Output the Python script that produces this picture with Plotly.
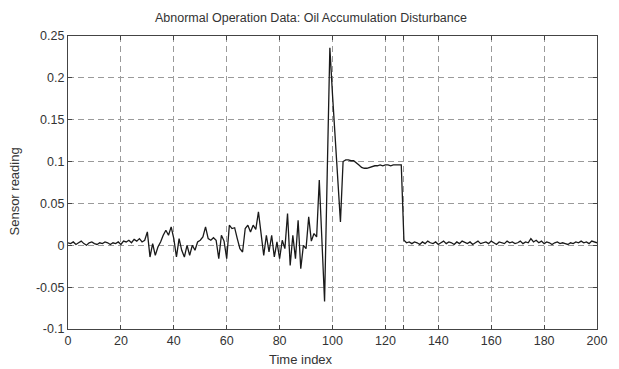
import plotly.graph_objects as go

time_index = list(range(0, 201))

seg_quiet = [0.003, 0.002, 0.004, 0.001, 0.003, 0.005, 0.002, 0.000, 0.003, 0.004,
             0.002, 0.001, 0.003, 0.002, 0.004, 0.003, 0.001, 0.003, 0.002, 0.004,
             0.001, 0.005, 0.004, 0.006, 0.003, 0.007, 0.005, 0.008, 0.004, 0.006]
seg_noisy = [0.016, -0.014, 0.002, -0.012, -0.002, 0.004, 0.012, 0.018, 0.012, 0.022,
             0.008, -0.014, 0.008, -0.006, -0.014, 0.000, -0.012, 0.000, -0.006, 0.004,
             0.006, 0.010, 0.022, 0.008, 0.006, 0.009, 0.006, -0.016, 0.012, 0.005,
             -0.016, 0.024, 0.020, 0.021, 0.008, -0.004, -0.008, 0.020, 0.024, 0.016,
             0.024, 0.019, 0.040, 0.014, -0.012, 0.012, -0.008, 0.012, -0.014, 0.004,
             -0.016, 0.006, -0.004, 0.038, -0.024, 0.012, -0.016, 0.030, -0.028, 0.000,
             -0.004, 0.034, 0.005, 0.014, 0.010]
seg_spike = [0.078, 0.005, -0.067, 0.085, 0.236, 0.180, 0.125, 0.075, 0.028]
seg_plateau = [0.100, 0.102, 0.102, 0.101, 0.101, 0.099, 0.096, 0.093, 0.092, 0.092,
               0.093, 0.094, 0.095, 0.095, 0.096, 0.095, 0.096, 0.096, 0.095, 0.096,
               0.096, 0.096, 0.096]
seg_after = [0.006, 0.003, 0.004, 0.002, 0.004, 0.003, 0.001, 0.004, 0.002, 0.005,
             0.003, 0.002, 0.004, 0.001, 0.003, 0.005, 0.002, 0.004, 0.003, 0.001,
             0.004, 0.002, 0.005, 0.003, 0.002, 0.004, 0.001, 0.003, 0.005, 0.002,
             0.003, 0.004, 0.002, 0.005, 0.003, 0.001, 0.004, 0.003, 0.002, 0.005,
             0.003, 0.004, 0.002, 0.003, 0.005, 0.002, 0.004, 0.003, 0.008, 0.004,
             0.006, 0.003, 0.005, 0.002, 0.004, 0.003, 0.001, 0.003, 0.004, 0.002,
             0.003, 0.002, 0.001, 0.003, 0.002, 0.004, 0.003, 0.005, 0.003, 0.004,
             0.002, 0.005, 0.004, 0.003]
sensor_reading = seg_quiet + seg_noisy + seg_spike + seg_plateau + seg_after
sensor_reading = sensor_reading[:201]

x_ticks = [0, 20, 40, 60, 80, 100, 120, 127, 140, 160, 180, 200]
x_tick_text = ["0", "20", "40", "60", "80", "100", "120", "", "140", "160", "180", "200"]
y_ticks = [-0.1, -0.05, 0, 0.05, 0.1, 0.15, 0.2, 0.25]
y_tick_text = ["-0.1", "-0.05", "0", "0.05", "0.1", "0.15", "0.2", "0.25"]

font_family = "Liberation Sans, Arial, sans-serif"
text_color = "#333333"

W, H = 619, 369
ML, MR, MT, MB = 68, 12, 36, 40

fig = go.Figure()
fig.add_trace(go.Scatter(x=time_index[:len(sensor_reading)], y=sensor_reading,
                         mode="lines", line=dict(color="#1a1a1a", width=1.3),
                         showlegend=False))

axis_common = dict(showline=True, linecolor="#444444", linewidth=1.2, mirror="ticks",
                   ticks="inside", ticklen=4, tickcolor="#444444",
                   showgrid=True, gridcolor="#9a9a9a", griddash="6px,4px", gridwidth=1,
                   zeroline=False, tickfont=dict(family=font_family, size=12.5, color=text_color))

fig.update_xaxes(range=[0, 200], tickvals=x_ticks, ticktext=x_tick_text,
                 **axis_common)
fig.update_yaxes(range=[-0.1, 0.25], tickvals=y_ticks, ticktext=y_tick_text,
                 **axis_common)

plot_w = W - ML - MR
fig.add_annotation(text="Time index", xref="paper", yref="paper",
                   x=(305 - ML) / plot_w, y=0, xanchor="center", yanchor="top",
                   yshift=-21, showarrow=False,
                   font=dict(family=font_family, size=13, color=text_color))
fig.add_annotation(text="Sensor reading", xref="paper", yref="paper",
                   x=0, y=0.5, xanchor="center", yanchor="middle",
                   xshift=14 - ML, yshift=-9, textangle=-90, showarrow=False,
                   font=dict(family=font_family, size=13, color=text_color))

fig.update_layout(
    width=W, height=H,
    margin=dict(l=ML, r=MR, t=MT, b=MB),
    paper_bgcolor="white", plot_bgcolor="white",
    title=dict(text="Abnormal Operation Data: Oil Accumulation Disturbance",
               x=311 / W, xref="container", xanchor="center",
               y=1 - 18 / H, yref="container", yanchor="middle",
               font=dict(family=font_family, size=12.5, color=text_color)),
)

fig.write_html("out.html")
